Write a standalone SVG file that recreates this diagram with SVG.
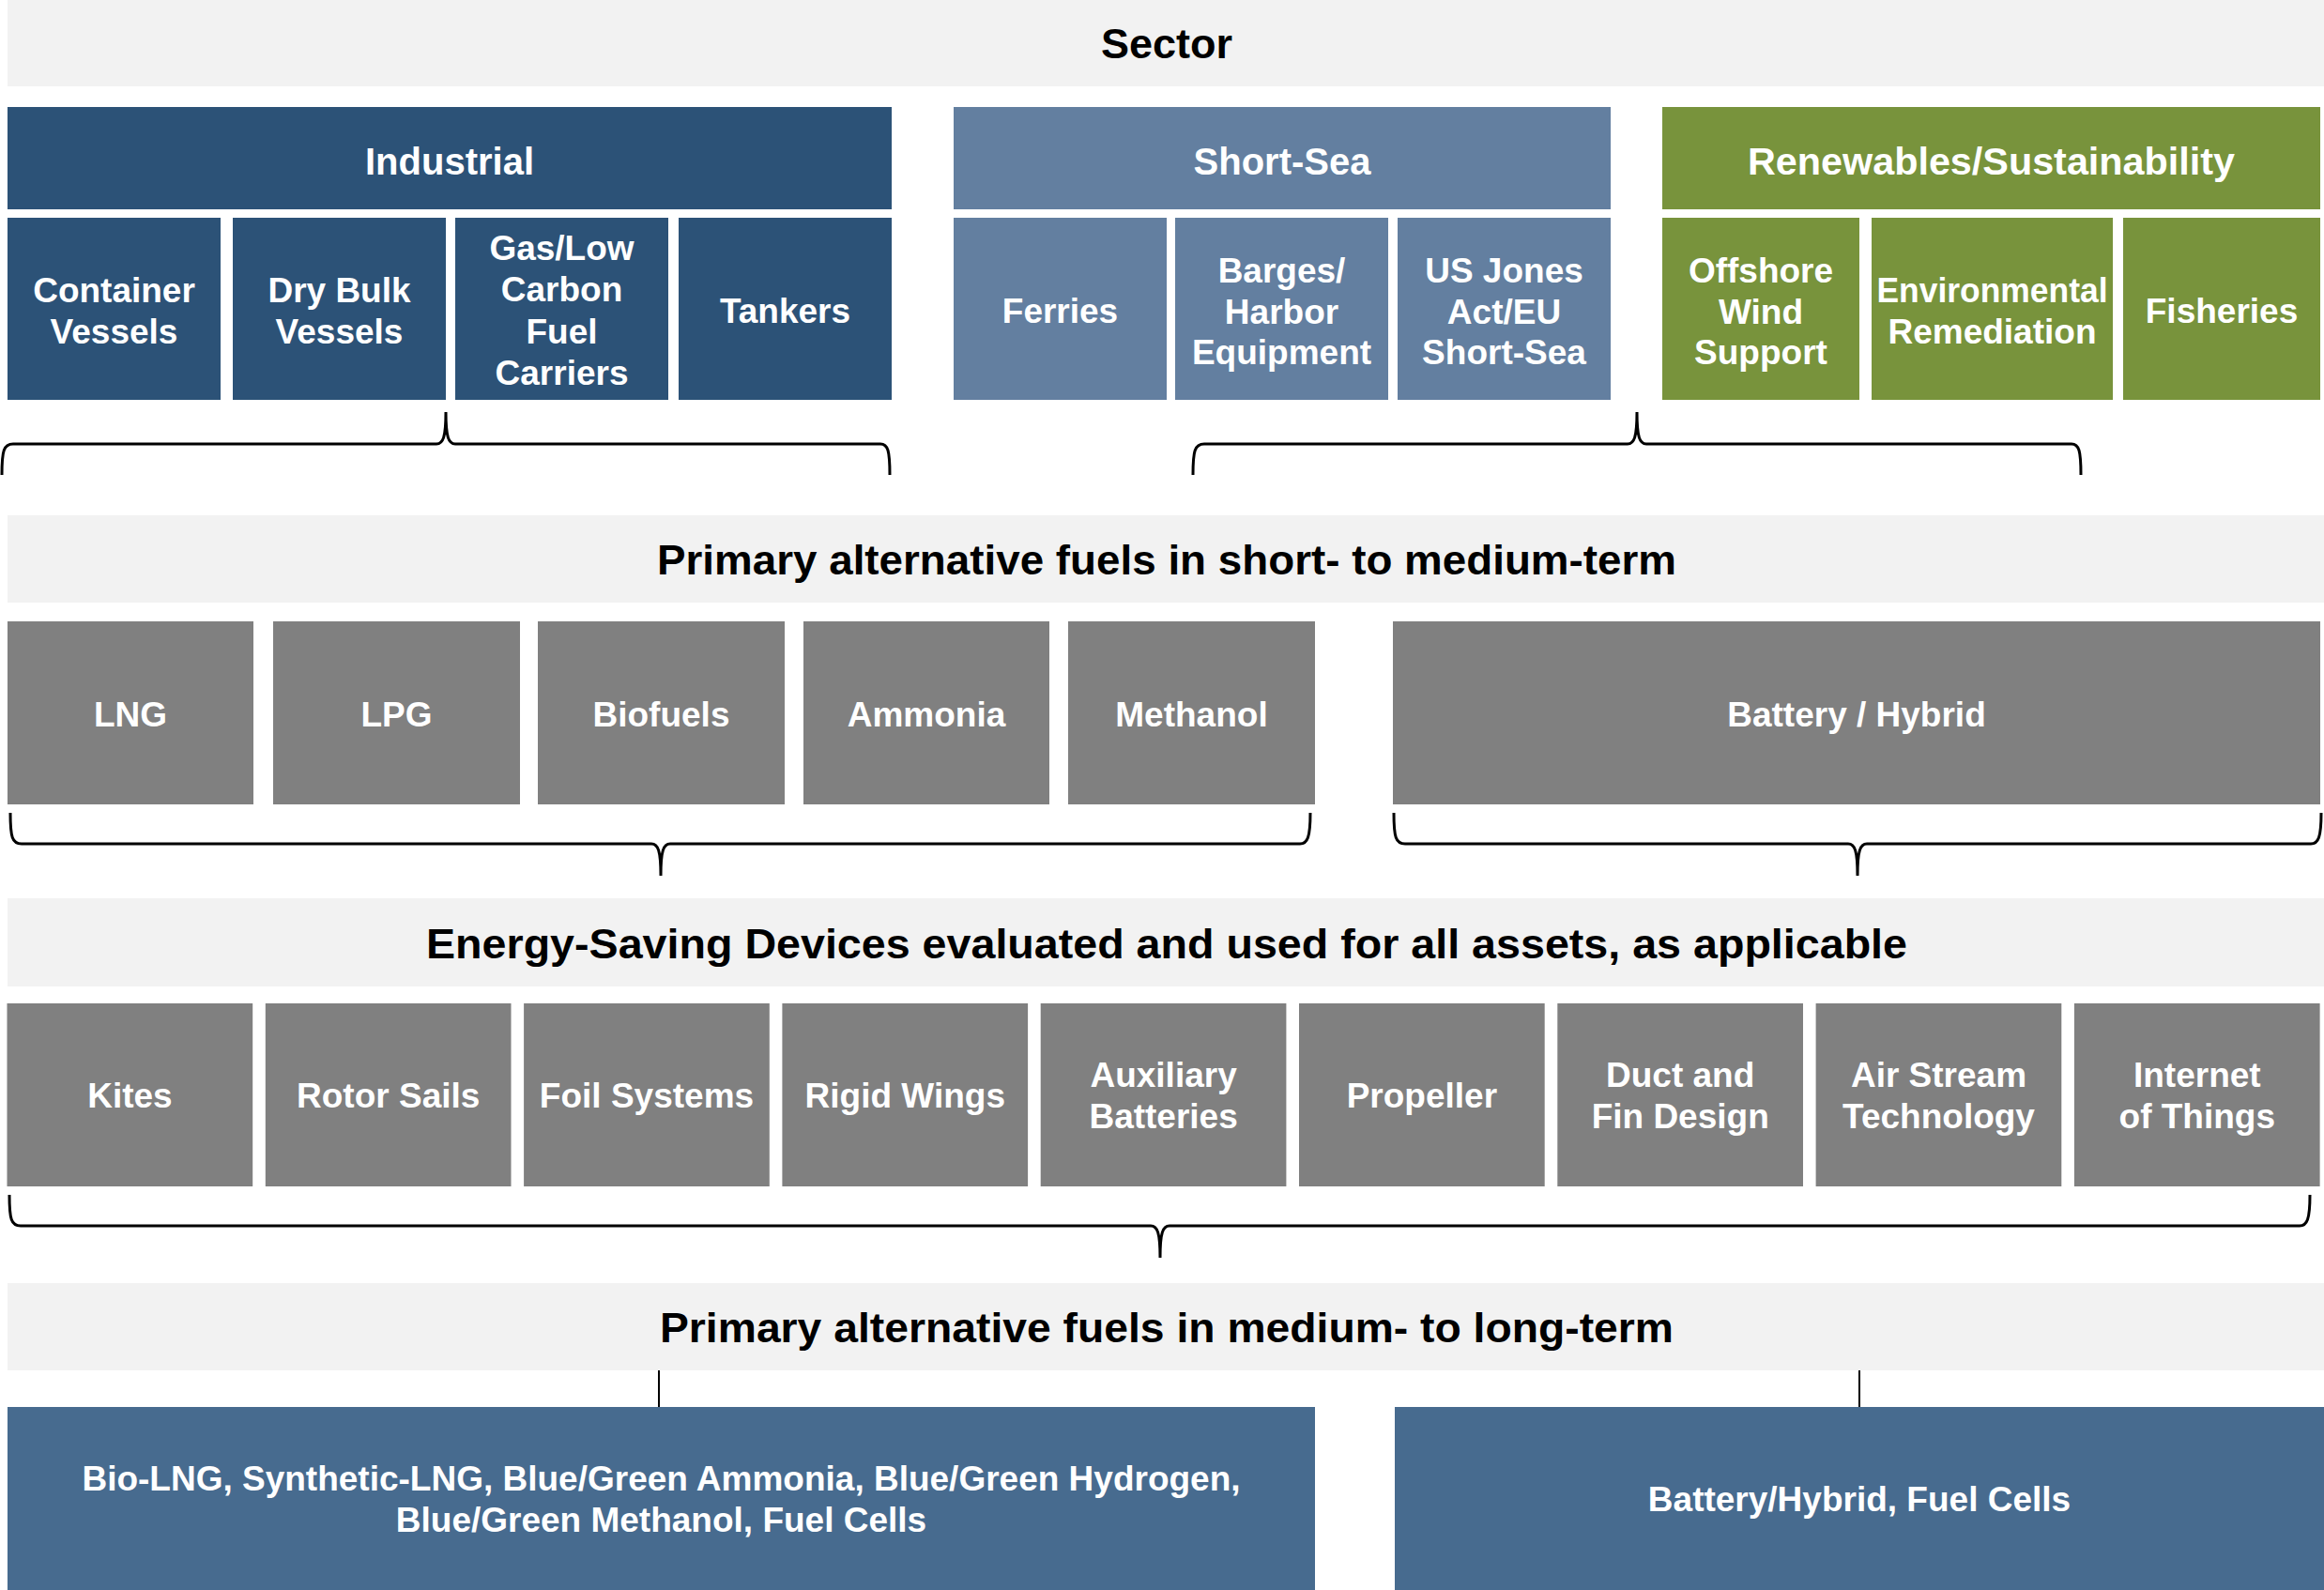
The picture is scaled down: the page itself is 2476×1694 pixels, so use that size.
<svg xmlns="http://www.w3.org/2000/svg" width="2476" height="1694" viewBox="0 0 2476 1694">
<style>
text{font-family:"Liberation Sans",Arial,"DejaVu Sans",sans-serif;font-weight:bold;text-anchor:middle}
.banner{fill:#F2F2F2}
.bt{font-size:45px;fill:#000}
.ht{font-size:40px;fill:#fff}
.lt{font-size:37px;fill:#fff}
.ind{fill:#2C5277}
.ss{fill:#637FA0}
.ren{fill:#78933C}
.gray{fill:#808080}
.blue{fill:#476B8F}
.br{fill:none;stroke:#000;stroke-width:3}
.ln{fill:none;stroke:#000;stroke-width:2}
</style>

<g id="banner-sector"><rect class="banner" x="8" y="0" width="2468" height="92"/><text class="bt" x="1243" y="62">Sector</text></g>

<g id="industrial"><rect class="ind" x="8" y="114" width="942" height="109"/><text class="ht" x="479" y="186">Industrial</text></g>
<g id="container"><rect class="ind" x="8" y="232" width="227" height="194"/><text class="lt" x="121.5" y="322">Container</text><text class="lt" x="121.5" y="366">Vessels</text></g>
<g id="drybulk"><rect class="ind" x="248" y="232" width="227" height="194"/><text class="lt" x="361.5" y="322">Dry Bulk</text><text class="lt" x="361.5" y="366">Vessels</text></g>
<g id="gas"><rect class="ind" x="485" y="232" width="227" height="194"/><text class="lt" x="598.5" y="277">Gas/Low</text><text class="lt" x="598.5" y="321">Carbon</text><text class="lt" x="598.5" y="366">Fuel</text><text class="lt" x="598.5" y="410">Carriers</text></g>
<g id="tankers"><rect class="ind" x="723" y="232" width="227" height="194"/><text class="lt" x="836.5" y="344">Tankers</text></g>

<g id="shortsea"><rect class="ss" x="1016" y="114" width="700" height="109"/><text class="ht" x="1366" y="186">Short-Sea</text></g>
<g id="ferries"><rect class="ss" x="1016" y="232" width="227" height="194"/><text class="lt" x="1129.5" y="344">Ferries</text></g>
<g id="barges"><rect class="ss" x="1252" y="232" width="227" height="194"/><text class="lt" x="1365.5" y="301">Barges/</text><text class="lt" x="1365.5" y="345">Harbor</text><text class="lt" x="1365.5" y="388">Equipment</text></g>
<g id="usjones"><rect class="ss" x="1489" y="232" width="227" height="194"/><text class="lt" x="1602.5" y="301">US Jones</text><text class="lt" x="1602.5" y="345">Act/EU</text><text class="lt" x="1602.5" y="388">Short-Sea</text></g>

<g id="renewables"><rect class="ren" x="1771" y="114" width="701" height="109"/><text class="ht" x="2121.5" y="186" textLength="519" lengthAdjust="spacingAndGlyphs">Renewables/Sustainability</text></g>
<g id="offshore"><rect class="ren" x="1771" y="232" width="210" height="194"/><text class="lt" x="1876" y="301">Offshore</text><text class="lt" x="1876" y="345">Wind</text><text class="lt" x="1876" y="388">Support</text></g>
<g id="environmental"><rect class="ren" x="1994" y="232" width="257" height="194"/><text class="lt" x="2122.5" y="322" textLength="246" lengthAdjust="spacingAndGlyphs">Environmental</text><text class="lt" x="2122.5" y="366">Remediation</text></g>
<g id="fisheries"><rect class="ren" x="2262" y="232" width="210" height="194"/><text class="lt" x="2367" y="344">Fisheries</text></g>

<g id="banner-short"><rect class="banner" x="8" y="549" width="2468" height="93"/><text class="bt" x="1243" y="612" textLength="1086" lengthAdjust="spacingAndGlyphs">Primary alternative fuels in short- to medium-term</text></g>

<g id="lng"><rect class="gray" x="8" y="662" width="262" height="195"/><text class="lt" x="139" y="774">LNG</text></g>
<g id="lpg"><rect class="gray" x="291" y="662" width="263" height="195"/><text class="lt" x="422.5" y="774">LPG</text></g>
<g id="biofuels"><rect class="gray" x="573" y="662" width="263" height="195"/><text class="lt" x="704.5" y="774">Biofuels</text></g>
<g id="ammonia"><rect class="gray" x="856" y="662" width="262" height="195"/><text class="lt" x="987" y="774">Ammonia</text></g>
<g id="methanol"><rect class="gray" x="1138" y="662" width="263" height="195"/><text class="lt" x="1269.5" y="774">Methanol</text></g>
<g id="battery"><rect class="gray" x="1484" y="662" width="988" height="195"/><text class="lt" x="1978" y="774">Battery / Hybrid</text></g>

<g id="banner-esd"><rect class="banner" x="8" y="957" width="2468" height="94"/><text class="bt" x="1243" y="1021" textLength="1578" lengthAdjust="spacingAndGlyphs">Energy-Saving Devices evaluated and used for all assets, as applicable</text></g>

<g id="kites"><rect class="gray" x="7.5" y="1069" width="261.7" height="195"/><text class="lt" x="138.4" y="1180">Kites</text></g>
<g id="rotor"><rect class="gray" x="282.8" y="1069" width="261.7" height="195"/><text class="lt" x="413.7" y="1180">Rotor Sails</text></g>
<g id="foil"><rect class="gray" x="558.1" y="1069" width="261.7" height="195"/><text class="lt" x="689" y="1180">Foil Systems</text></g>
<g id="rigid"><rect class="gray" x="833.4" y="1069" width="261.7" height="195"/><text class="lt" x="964.3" y="1180">Rigid Wings</text></g>
<g id="auxiliary"><rect class="gray" x="1108.7" y="1069" width="261.7" height="195"/><text class="lt" x="1239.6" y="1158">Auxiliary</text><text class="lt" x="1239.6" y="1202">Batteries</text></g>
<g id="propeller"><rect class="gray" x="1384" y="1069" width="261.7" height="195"/><text class="lt" x="1514.9" y="1180">Propeller</text></g>
<g id="duct"><rect class="gray" x="1659.3" y="1069" width="261.7" height="195"/><text class="lt" x="1790.2" y="1158">Duct and</text><text class="lt" x="1790.2" y="1202">Fin Design</text></g>
<g id="airstream"><rect class="gray" x="1934.6" y="1069" width="261.7" height="195"/><text class="lt" x="2065.5" y="1158">Air Stream</text><text class="lt" x="2065.5" y="1202">Technology</text></g>
<g id="iot"><rect class="gray" x="2209.9" y="1069" width="261.7" height="195"/><text class="lt" x="2340.8" y="1158">Internet</text><text class="lt" x="2340.8" y="1202">of Things</text></g>

<g id="banner-long"><rect class="banner" x="8" y="1367" width="2468" height="93"/><text class="bt" x="1243" y="1430" textLength="1080" lengthAdjust="spacingAndGlyphs">Primary alternative fuels in medium- to long-term</text></g>

<g id="long-left"><rect class="blue" x="8" y="1499" width="1393" height="195"/><text class="lt" x="704.5" y="1588">Bio-LNG, Synthetic-LNG, Blue/Green Ammonia, Blue/Green Hydrogen,</text><text class="lt" x="704.5" y="1632">Blue/Green Methanol, Fuel Cells</text></g>
<g id="long-right"><rect class="blue" x="1486" y="1499" width="990" height="195"/><text class="lt" x="1981" y="1610">Battery/Hybrid, Fuel Cells</text></g>

<g id="connectors">
<path class="br" d="M2,506 C2,480 4,473 14,473 L465,473 C472,473 475,466 475,439 C475,466 478,473 485,473 L938,473 C946,473 948,480 948,506"/>
<path class="br" d="M1271,506 C1271,480 1273,473 1283,473 L1734,473 C1741,473 1744,466 1744,439 C1744,466 1747,473 1754,473 L2207,473 C2215,473 2217,480 2217,506"/>
<path class="br" d="M11,866 C11,892 13,899 23,899 L694,899 C701,899 704,906 704,933 C704,906 707,899 714,899 L1385,899 C1393,899 1396,892 1396,866"/>
<path class="br" d="M1485,866 C1485,892 1487,899 1497,899 L1969,899 C1976,899 1979,906 1979,933 C1979,906 1982,899 1989,899 L2462,899 C2470,899 2473,892 2473,866"/>
<path class="br" d="M10,1273 C10,1299 12,1306 22,1306 L1226,1306 C1233,1306 1236,1313 1236,1340 C1236,1313 1239,1306 1246,1306 L2450,1306 C2458,1306 2461,1299 2461,1273"/>
<line class="ln" x1="702" y1="1460" x2="702" y2="1499"/>
<line class="ln" x1="1981" y1="1460" x2="1981" y2="1499"/>
</g>
</svg>
